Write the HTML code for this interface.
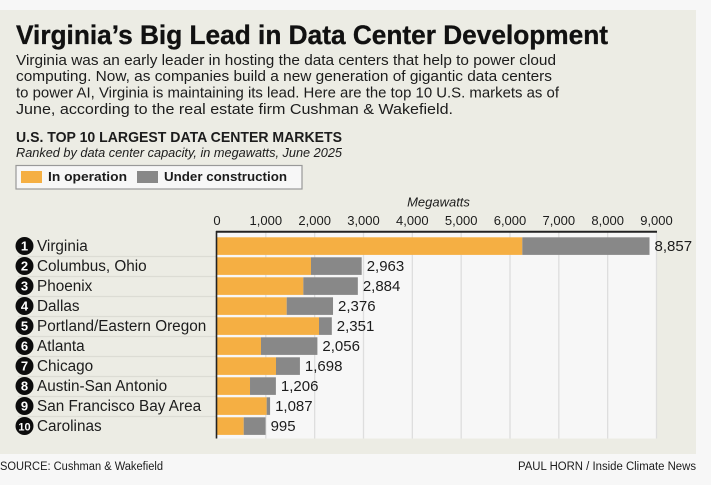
<!DOCTYPE html>
<html lang="en">
<head>
<meta charset="utf-8">
<title>Virginia's Big Lead in Data Center Development</title>
<style>
  html, body { margin: 0; padding: 0; background: #f7f7f7; }
  svg { display: block; font-family: "Liberation Sans", sans-serif; }
  text { fill: #1c1c1c; }
</style>
</head>
<body>
<svg id="chart" width="711" height="485" viewBox="0 0 711 485" xmlns="http://www.w3.org/2000/svg">
  <rect x="0" y="0" width="711" height="485" fill="#f7f7f7"/>
  <rect x="0" y="10" width="696" height="444" fill="#ecece4"/>

  <text x="16" y="44" font-size="27" font-weight="700" style="fill:#111;stroke:#111;stroke-width:0.35" textLength="592" lengthAdjust="spacingAndGlyphs">Virginia’s Big Lead in Data Center Development</text>
  <g font-size="15" fill="#222">
    <text x="16" y="65" textLength="540" lengthAdjust="spacingAndGlyphs">Virginia was an early leader in hosting the data centers that help to power cloud</text>
    <text x="16" y="81" textLength="536" lengthAdjust="spacingAndGlyphs">computing. Now, as companies build a new generation of gigantic data centers</text>
    <text x="16" y="97.5" textLength="543" lengthAdjust="spacingAndGlyphs">to power AI, Virginia is maintaining its lead. Here are the top 10 U.S. markets as of</text>
    <text x="16" y="114" textLength="437" lengthAdjust="spacingAndGlyphs">June, according to the real estate firm Cushman &amp; Wakefield.</text>
  </g>

  <text x="16" y="142" font-size="15" font-weight="700" textLength="326" lengthAdjust="spacingAndGlyphs">U.S. TOP 10 LARGEST DATA CENTER MARKETS</text>
  <text x="16" y="157" font-size="13" font-style="italic" textLength="326" lengthAdjust="spacingAndGlyphs">Ranked by data center capacity, in megawatts, June 2025</text>

  <g>
    <rect x="16" y="165.5" width="286" height="23.5" fill="#f7f7f7" stroke="#999" stroke-width="1.2"/>
    <rect x="21" y="171" width="21" height="12" fill="#f5af43"/>
    <text x="48" y="181" font-size="13" font-weight="700" textLength="79" lengthAdjust="spacingAndGlyphs">In operation</text>
    <rect x="137" y="171" width="21" height="12" fill="#888888"/>
    <text x="164" y="181" font-size="13" font-weight="700" textLength="123" lengthAdjust="spacingAndGlyphs">Under construction</text>
  </g>

  <text x="438.5" y="206.5" font-size="13" font-style="italic" text-anchor="middle">Megawatts</text>

  <rect x="217" y="231" width="439.5" height="207.5" fill="#f7f7f7"/>
  <g id="grid"></g>
  <g id="ticks"></g>
  <g id="rows"></g>
  <line x1="216" y1="231.7" x2="657" y2="231.7" stroke="#222" stroke-width="2"/>
  <line x1="216.5" y1="231" x2="216.5" y2="438.5" stroke="#222" stroke-width="1.6"/>

  <text x="0" y="470" font-size="11.5" fill="#333" textLength="163" lengthAdjust="spacingAndGlyphs">SOURCE: Cushman &amp; Wakefield</text>
  <text x="518" y="470" font-size="11.5" fill="#333" textLength="178" lengthAdjust="spacingAndGlyphs">PAUL HORN / Inside Climate News</text>
</svg>
<script>
const markets = ["Virginia", "Columbus, Ohio", "Phoenix", "Dallas", "Portland/Eastern Oregon", "Atlanta", "Chicago", "Austin-San Antonio", "San Francisco Bay Area", "Carolinas"];
const totals = [8857, 2963, 2884, 2376, 2351, 2056, 1698, 1206, 1087, 995];
const inOperation = [6252, 1925, 1768, 1427, 2089, 901, 1208, 676, 1017, 547];
const tickValues = [0, 1000, 2000, 3000, 4000, 5000, 6000, 7000, 8000, 9000];

const NS = "http://www.w3.org/2000/svg";
function xScale(v) { return 217 + v * 439.5 / 9000; }
function rowY(i) { return 246 + i * 20; }
function fmt(v) { return v.toLocaleString("en-US"); }
function make(tag, attrs, parent, content) {
  const el = document.createElementNS(NS, tag);
  for (const k in attrs) el.setAttribute(k, attrs[k]);
  if (content !== undefined) el.textContent = content;
  parent.appendChild(el);
  return el;
}

const grid = document.getElementById("grid");
const ticks = document.getElementById("ticks");
tickValues.forEach(function (t) {
  const x = xScale(t);
  if (t > 0) {
    const g = make("line", { x1: x, x2: x, y1: 231, y2: 438.5, stroke: "#dedede", "stroke-width": 1.3 }, grid);
    
    
  }
  const lbl = make("text", { x: x, y: 225, "font-size": 13, "text-anchor": "middle" }, ticks, fmt(t));
  
  
});

const rows = document.getElementById("rows");
markets.forEach(function (name, i) {
  const cy = rowY(i);
  if (i < markets.length - 1) {
    const sep = make("line", { x1: 18, x2: 216, y1: cy + 10.5, y2: cy + 10.5, stroke: "#dcdcd4", "stroke-width": 1.2 }, rows);
    
    
  }
  const badge = make("circle", { cx: 24.5, cy: cy, r: 9, fill: "#0c0c0c" }, rows);
  
  
  const num = make("text", { x: 24.5, y: cy + 4.5, "font-size": i === 9 ? 11 : 13, "font-weight": 700, "text-anchor": "middle", style: "fill:#fff" }, rows, String(i + 1));
  
  
  const label = make("text", { x: 37, y: cy + 5, "font-size": 15.3 }, rows, name);
  
  

  const x0 = xScale(0), x1 = xScale(inOperation[i]), x2 = xScale(totals[i]);
  const barOp = make("rect", { x: x0, y: cy - 8.7, width: x1 - x0, height: 17.6, fill: "#f5af43" }, rows);
  
  
  const barCon = make("rect", { x: x1, y: cy - 8.7, width: x2 - x1, height: 17.6, fill: "#888888" }, rows);
  
  
  const val = make("text", { x: x2 + 5, y: cy + 5, "font-size": 15 }, rows, fmt(totals[i]));
  
  
});
</script>
</body>
</html>
